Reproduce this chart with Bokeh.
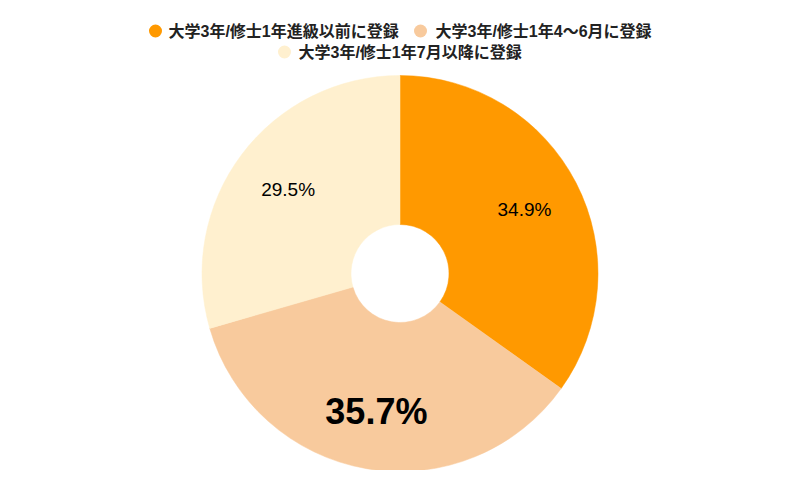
import math
from bokeh.plotting import figure
from bokeh.models import Range1d, ColumnDataSource
from bokeh.core.properties import value
from bokeh.embed import file_html
from bokeh.resources import INLINE

categories = ["大学3年/修士1年進級以前に登録", "大学3年/修士1年4～6月に登録", "大学3年/修士1年7月以降に登録"]
values = [34.9, 35.7, 29.5]
labels = ["34.9%", "35.7%", "29.5%"]
colors = ["#FF9900", "#F8CA9D", "#FFF0CF"]
label_sizes = ["19px", "36px", "19px"]
label_styles = ["normal", "bold", "normal"]

W, H = 785, 470
p = figure(width=W, height=H, output_backend="svg", toolbar_location=None,
           x_range=Range1d(0, W), y_range=Range1d(0, H),
           min_border=0, outline_line_color=None)
p.axis.visible = False
p.grid.visible = False
p.background_fill_color = "white"
p.border_fill_color = "white"

def Y(py):
    return H - py

cx, cy = 399.5, Y(273)
r_out, r_in, r_lab = 198, 49, 140

total = sum(values)
starts, ends, lx, ly = [], [], [], []
acc = 0.0
for v in values:
    a0 = math.pi / 2 - 2 * math.pi * acc / total
    a1 = math.pi / 2 - 2 * math.pi * (acc + v) / total
    starts.append(a0)
    ends.append(a1)
    mid = (a0 + a1) / 2
    lx.append(cx + r_lab * math.cos(mid))
    ly.append(cy + r_lab * math.sin(mid))
    acc += v

src = ColumnDataSource(dict(start=starts, end=ends, color=colors))
p.annular_wedge(x=cx, y=cy, inner_radius=r_in, outer_radius=r_out,
                start_angle="start", end_angle="end", direction="clock",
                fill_color="color", line_color="color", line_width=0.5, source=src)

for i in range(3):
    p.text(x=[lx[i]], y=[ly[i]], text=[labels[i]], text_align="center", text_baseline="middle",
           text_font=value("Liberation Sans"), text_font_size=label_sizes[i],
           text_font_style=label_styles[i], text_color="#000000")

# legend
leg_mx = [155, 420, 284]
leg_tx = [168, 435, 298]
leg_y = [30.5, 30.5, 51.5]
for i in range(3):
    p.scatter(x=[leg_mx[i]], y=[Y(leg_y[i])], size=13, marker="circle",
              fill_color=colors[i], line_color=None)
    p.text(x=[leg_tx[i]], y=[Y(leg_y[i])], text=[categories[i]], text_align="left",
           text_baseline="middle", text_font=value("'Liberation Sans', 'Noto Sans CJK JP'"),
           text_font_size="16px", text_font_style="bold", text_color="#222222")

open("out.html", "w").write(file_html(p, INLINE))
